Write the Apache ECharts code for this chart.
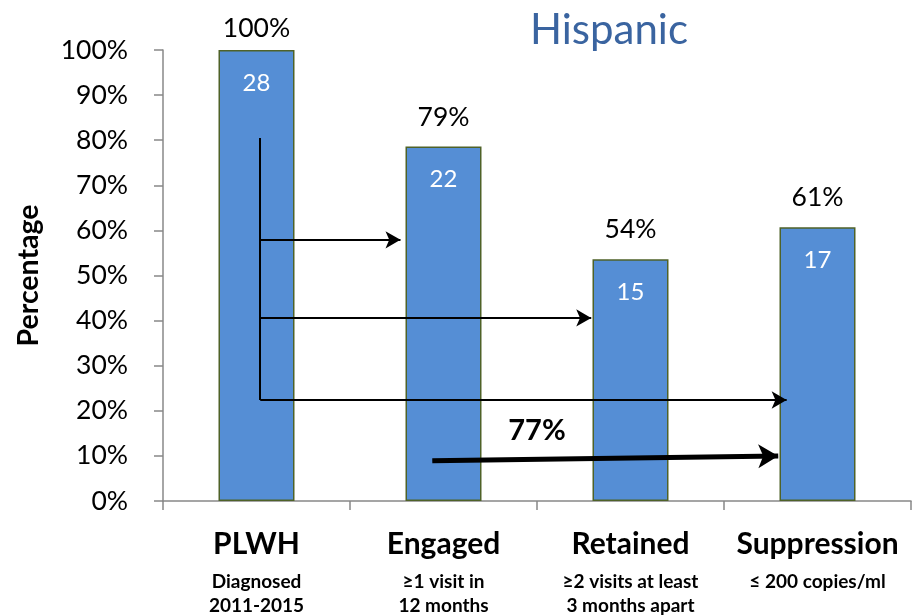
<!DOCTYPE html>
<html><head><meta charset="utf-8">
<script src="https://cdn.jsdelivr.net/npm/echarts@6/dist/echarts.min.js"></script>
<style>html,body{margin:0;padding:0;background:#fff}#c{width:919px;height:616px}</style>
</head><body><div id="c"></div>
<script>
// ---- data ----
const categories = ['PLWH', 'Engaged', 'Retained', 'Suppression'];
const subLabels = ['Diagnosed\n2011-2015', '≥1 visit in\n12 months', '≥2 visits at least\n3 months apart', '≤ 200 copies/ml'];
const percentValues = [100, 78.6, 53.6, 60.7];
const countValues = [28, 22, 15, 17];
const yTicks = [0, 10, 20, 30, 40, 50, 60, 70, 80, 90, 100];
const overallLabel = '77%';
// annotation arrows in (category-position, percent) units; category slots span 0..4
const trunk = [[0.52, 80.5], [0.52, 22.4]];
const arrowTargets = [[0.52, 57.9, 1.27], [0.52, 40.6, 2.29], [0.52, 22.4, 3.335]];
const overallArrow = [[1.44, 8.9], [3.29, 10.0]];
const overallLabelPos = [2.0, 15.7];

const FONT = 'Lato';
const chart = echarts.init(document.getElementById('c'));
const thinArrows = arrowTargets.map(a => [
  {coord: [a[0], a[1]], symbol: 'none'},
  {coord: [a[2], a[1]], symbol: 'arrow', symbolSize: [13, 15]}
]);
chart.setOption({
  animation: false,
  title: {text: 'Hispanic', left: 604, top: 4, textAlign: 'center',
    textStyle: {fontFamily: FONT, fontSize: 42, fontWeight: 'normal', color: '#3A64A0'}},
  grid: {left: 163, right: 8, top: 50, bottom: 115, containLabel: false},
  xAxis: [{
    type: 'category', data: categories,
    axisLine: {lineStyle: {color: '#888', width: 1.5}},
    axisTick: {show: true, length: 9, lineStyle: {color: '#888', width: 1.5}},
    axisLabel: {
      interval: 0, margin: 17,
      formatter: (v, i) => '{n|' + v + '}\n{s|' + subLabels[i].split('\n').join('}\n{s|') + '}',
      rich: {
        n: {fontFamily: FONT, fontSize: 30, fontWeight: 'bold', color: '#000', lineHeight: 52, align: 'center'},
        s: {fontFamily: FONT, fontSize: 19, fontWeight: 'bold', color: '#000', lineHeight: 24, align: 'center'}
      }
    }
  }, {
    type: 'value', min: 0, max: 4, show: false
  }],
  yAxis: {
    type: 'value', min: 0, max: 100, interval: 10,
    name: 'Percentage', nameLocation: 'middle', nameGap: 120, nameRotate: 90,
    nameTextStyle: {fontFamily: FONT, fontSize: 28.5, fontWeight: 'bold', color: '#000'},
    axisLine: {show: true, lineStyle: {color: '#888', width: 1.5}},
    axisTick: {show: true, length: 9, lineStyle: {color: '#888', width: 1.5}},
    splitLine: {show: false},
    axisLabel: {margin: 35, fontFamily: FONT, fontSize: 26.5, color: '#000',
      formatter: v => yTicks.includes(v) ? v + '%' : ''}
  },
  series: [{
    type: 'bar', data: percentValues.map((v, i) => i === 0 ? {value: v, label: {distance: 8}} : v), barWidth: 76,
    itemStyle: {color: '#558ED5', borderColor: '#4F6228', borderWidth: 1.5},
    label: {show: true, position: 'top', distance: 16, fontFamily: FONT, fontSize: 26.5, color: '#000',
      formatter: p => Math.round(p.value) + '%'}
  }, {
    type: 'bar', data: percentValues, barWidth: 76, barGap: '-100%',
    itemStyle: {color: 'rgba(0,0,0,0)'}, silent: true, z: 3,
    label: {show: true, position: 'insideTop', distance: 21, fontFamily: FONT, fontSize: 24, color: '#fff',
      formatter: p => String(countValues[p.dataIndex])}
  }, {
    type: 'line', xAxisIndex: 1, data: [], silent: true, z: 5,
    markLine: {
      silent: true, animation: false,
      label: {show: false},
      lineStyle: {type: 'solid', color: '#000', width: 2},
      data: [
        [{coord: trunk[0], symbol: 'none'}, {coord: trunk[1], symbol: 'none'}],
        ...thinArrows,
        [{coord: overallArrow[0], symbol: 'none', lineStyle: {width: 5}},
         {coord: overallArrow[1], symbol: 'arrow', symbolSize: [18, 20], lineStyle: {width: 5}}]
      ]
    },
    markPoint: {
      silent: true, symbol: 'circle', symbolSize: 0,
      data: [{coord: overallLabelPos, value: overallLabel}],
      label: {show: true, formatter: overallLabel, fontFamily: FONT, fontSize: 29, fontWeight: 'bold', color: '#000'}
    }
  }]
});
</script></body></html>
